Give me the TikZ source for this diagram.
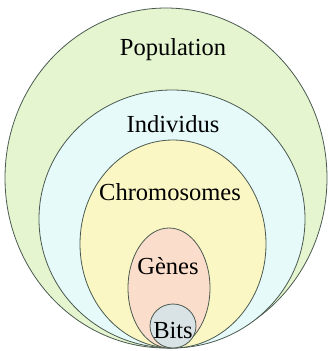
\documentclass[tikz,border=0pt]{standalone}
\usepackage{fontspec}
\setmainfont{Liberation Serif}
\definecolor{popc}{RGB}{228,245,208}
\definecolor{indc}{RGB}{230,250,250}
\definecolor{chrc}{RGB}{250,247,196}
\definecolor{genc}{RGB}{250,221,203}
\definecolor{bitc}{RGB}{217,227,229}
\definecolor{linec}{RGB}{75,90,80}
\tikzset{
  blob/.style={draw=linec, line width=0.8pt},
  lbl/.style={font=\fontsize{24.5}{26}\selectfont, inner sep=0pt, text=black}
}
\begin{document}
\begin{tikzpicture}[x=1pt,y=-1pt]
\useasboundingbox (0,0) rectangle (329,351);
% ellipses: center (cx, cy), radii (rx, ry); all touch bottom y=348
\path[blob, fill=popc] (166,178) ellipse [x radius=161, y radius=170];
\path[blob, fill=indc] (172,219) ellipse [x radius=133, y radius=129];
\path[blob, fill=chrc] (173,244) ellipse [x radius=93, y radius=104];
\path[blob, fill=genc] (169,288) ellipse [x radius=41, y radius=60];
\path[blob, fill=bitc] (173,326) ellipse [x radius=23, y radius=22];
\node[lbl] (pop) at (173,50) {Population};
\node[lbl] (ind) at (173,124) {Individus};
\node[lbl] (chr) at (170,192) {Chromosomes};
\node[lbl] (gen) at (168,266) {Gènes};
\node[lbl] (bit) at (173,331) {Bits};
\end{tikzpicture}
\end{document}
